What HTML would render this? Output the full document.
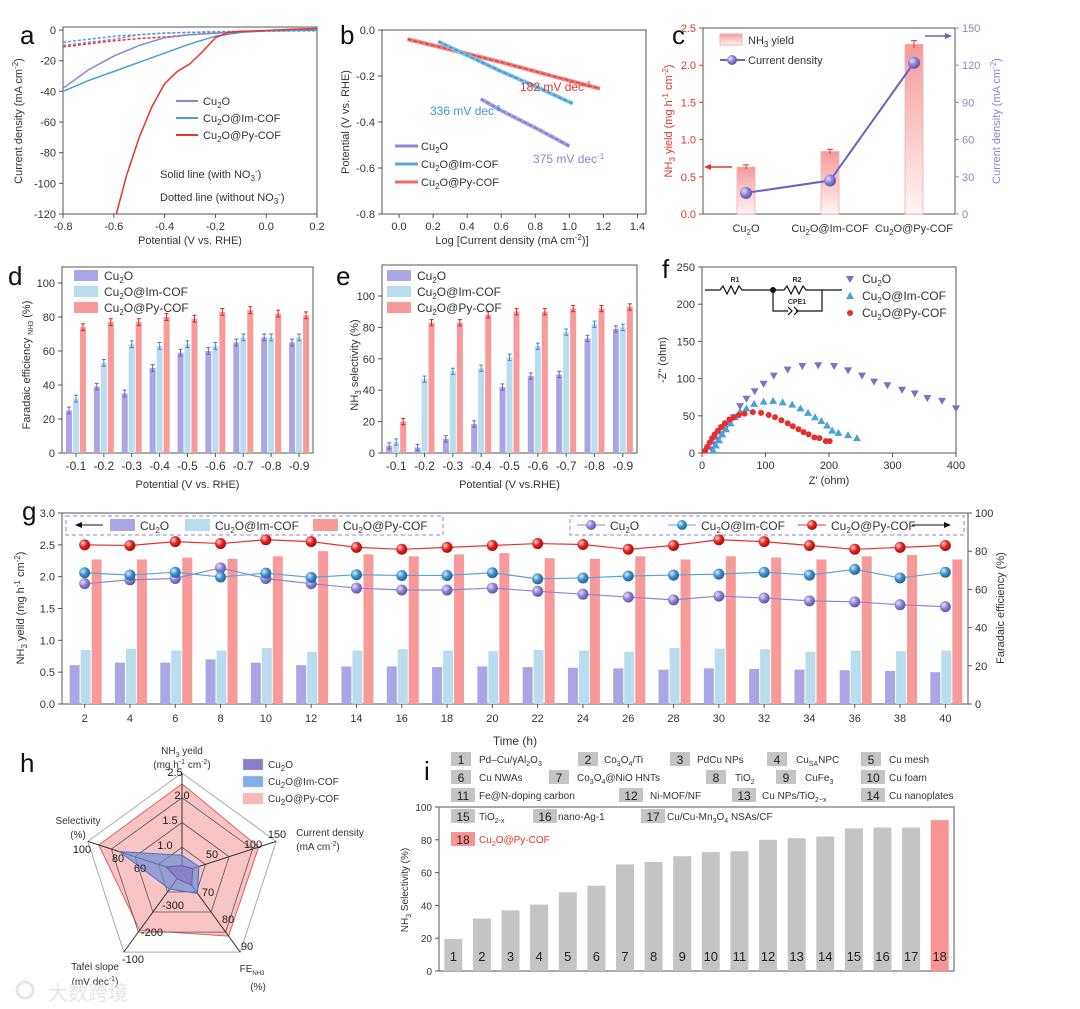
<!DOCTYPE html>
<html><head><meta charset="utf-8"><style>
html,body{margin:0;padding:0;background:#fff;}
svg{display:block;font-family:"Liberation Sans","Noto Sans CJK SC",sans-serif;}
</style></head><body>
<svg id="fig" width="1080" height="1009" viewBox="0 0 1080 1009" xmlns="http://www.w3.org/2000/svg">
<defs>
<linearGradient id="gradRed" x1="0" y1="0" x2="0" y2="1"><stop offset="0" stop-color="#f59a9a"/><stop offset="1" stop-color="#fff5f5"/></linearGradient>
<radialGradient id="sphP" cx="0.35" cy="0.35" r="0.7"><stop offset="0" stop-color="#e6e2ff"/><stop offset="0.5" stop-color="#8c82d2"/><stop offset="1" stop-color="#5a50a8"/></radialGradient>
<radialGradient id="sphB" cx="0.35" cy="0.35" r="0.7"><stop offset="0" stop-color="#d8efff"/><stop offset="0.5" stop-color="#3f8fcc"/><stop offset="1" stop-color="#1d5f96"/></radialGradient>
<radialGradient id="sphR" cx="0.35" cy="0.35" r="0.7"><stop offset="0" stop-color="#ffdede"/><stop offset="0.5" stop-color="#e8201e"/><stop offset="1" stop-color="#a00c0c"/></radialGradient>
</defs>
</svg>
<script>
// ---------- DATA ----------
const aPot=[-0.8,-0.7,-0.6,-0.5,-0.4,-0.3,-0.2,-0.1,0.0,0.1,0.2];
const aCuSolid=[-38,-26,-17,-10,-5,-3,-2,-1,-0.5,-0.2,0];
const aImSolid=[-40,-33,-27,-21,-15,-9,-4,-1.5,-0.5,-0.2,0];
const aPyPot=[-0.59,-0.55,-0.5,-0.45,-0.4,-0.35,-0.3,-0.25,-0.2,-0.15,-0.1,0.0,0.1,0.2];
const aPySolid=[-120,-95,-70,-50,-35,-27,-22,-14,-5,-1.5,-0.8,-0.3,0.5,1];
const aCuDot=[-10,-8,-6,-3,-2,-1.5,-1,-0.8,-0.6,-0.5,-0.5];
const aImDot=[-8,-6,-4,-3,-2,-1.5,-1.2,-1,-0.7,-0.6,-0.5];
const aPyDot=[-11,-9,-7,-5.5,-4.5,-3,-2,-1.2,-0.5,0,0];

const bPyX=[0.05,0.3,0.6,0.9,1.18], bPyY=[-0.04,-0.085,-0.14,-0.2,-0.255];
const bImX=[0.23,0.4,0.6,0.8,1.02], bImY=[-0.05,-0.11,-0.18,-0.245,-0.32];
const bCuX=[0.48,0.6,0.8,1.0], bCuY=[-0.30,-0.35,-0.425,-0.505];

const cCats=['Cu<tspan dy="3" font-size="8">2</tspan><tspan dy="-3">O</tspan>','Cu<tspan dy="3" font-size="8">2</tspan><tspan dy="-3">O@Im-COF</tspan>','Cu<tspan dy="3" font-size="8">2</tspan><tspan dy="-3">O@Py-COF</tspan>'];
const cYield=[0.63,0.84,2.28];
const cYieldErr=[0.03,0.03,0.05];
const cCurrent=[17,27,122];

const potCats=['-0.1','-0.2','-0.3','-0.4','-0.5','-0.6','-0.7','-0.8','-0.9'];
const dCu=[25,39,35,50,59,60,65,68,65];
const dIm=[32,53,64,63,64,63,68,68,68];
const dPy=[74,77,77,80,79,83,84,82,81];
const eCu=[4.5,3.5,9,18.5,42,49,50,73,79];
const eIm=[7,47,52,54,61,68,77,82,80];
const ePy=[20,83,83,88,90,90,92,92,93];

const fCuX=[15,20,25,30,35,40,45,50,60,70,83,97,113,135,158,183,208,230,252,271,292,315,335,355,378,400];
const fCuY=[5,12,18,25,32,38,43,48,63,73,83,93,104,112,117,118,117,111,104,96,91,85,80,74,70,60];
const fImX=[18,22,27,32,38,45,52,60,70,82,97,112,127,142,155,167,178,188,197,205,215,230,244];
const fImY=[3,10,17,25,32,40,48,56,60,66,69,70,68,65,60,54,48,43,37,30,27,24,20];
const fPyX=[5,8,12,16,20,25,30,36,43,50,58,67,80,93,105,115,125,135,143,152,160,168,177,185,195,201];
const fPyY=[3,8,14,20,25,30,35,40,45,48,51,53,55,54,51,48,44,40,36,32,28,25,21,20,16,16];

const gTime=[2,4,6,8,10,12,14,16,18,20,22,24,26,28,30,32,34,36,38,40];
const gCuYield=[0.61,0.65,0.65,0.70,0.65,0.61,0.59,0.59,0.58,0.59,0.58,0.57,0.56,0.54,0.56,0.55,0.54,0.53,0.52,0.50];
const gImYield=[0.85,0.87,0.84,0.84,0.88,0.82,0.84,0.86,0.84,0.83,0.85,0.84,0.82,0.88,0.87,0.86,0.82,0.84,0.83,0.84];
const gPyYield=[2.27,2.27,2.30,2.28,2.32,2.40,2.35,2.32,2.35,2.37,2.29,2.28,2.32,2.27,2.32,2.30,2.27,2.32,2.34,2.27];
const gCuFE=[63,65,65.7,71.3,65.7,63,60.7,59.7,59.7,60.7,59,57.5,56,54.5,56.5,55.5,54,53.5,52,51];
const gImFE=[68.7,67.5,69,66.5,68.5,66.3,67.7,67.3,67.3,68.7,65.5,66,67,67.5,68,69,67.5,70.5,66,69];
const gPyFE=[83.3,83,85,84,86,85,82,81,82,83,84,83.5,81,83,86,85,83,81,82,83];

const hAxisMin=[0.5,0,60,-400,40];
const hAxisMax=[2.5,150,90,-100,100];
const hCu=[0.63,17,65,-375,50];
const hIm=[0.84,27,68,-336,80];
const hPy=[2.28,122,84,-182,93];

const iVals=[19.5,32,37,40.5,48,52,65,66.5,70,72.5,73,80,81,82,87,87.5,87.5,92];
const iTicks=[0,20,40,60,80,100];

// ---------- HELPERS ----------
const NS='http://www.w3.org/2000/svg';
const S=document.getElementById('fig');
function el(tag,a,name,p){
  const e=document.createElementNS(NS,tag);
  for(const k in a) e.setAttribute(k,a[k]);
  
  
  (p||S).appendChild(e); return e;
}
function tx(x,y,html,name,o){
  o=o||{};
  const a={x:x,y:y,'font-size':o.fs||11,'text-anchor':o.a||'middle',fill:o.c||'#333'};
  if(o.r){a.transform='rotate('+o.r+' '+x+' '+y+')';}
  if(o.w) a['font-weight']=o.w;
  const t=el('text',a,name);
  t.innerHTML=html; return t;
}
const lin=(d0,d1,r0,r1)=>v=>r0+(v-d0)/(d1-d0)*(r1-r0);
const CU2O='Cu<tspan dy="3" font-size="8">2</tspan><tspan dy="-3">O</tspan>';
const IM='Cu<tspan dy="3" font-size="8">2</tspan><tspan dy="-3">O@Im-COF</tspan>';
const PY='Cu<tspan dy="3" font-size="8">2</tspan><tspan dy="-3">O@Py-COF</tspan>';
const CP='#8d84d4', CB='#4a9ed3', CR='#e8332d';
const BP='#aaa6e4', BB='#badcef', BR='#f99a9a';
function box(x0,y0,x1,y1,name){el('rect',{x:x0,y:y0,width:x1-x0,height:y1-y0,fill:'none',stroke:'#555','stroke-width':1},name);}
function yTicks(x,sc,vals,name,o){o=o||{};const side=o.right?1:-1;
  vals.forEach(v=>{const y=sc(v);
    el('line',{x1:x,x2:x+side*4,y1:y,y2:y,stroke:o.c||'#555'},name+'-tick');
    tx(x+side*7,y+4,o.fmt?o.fmt(v):String(v),name+'-label',{a:o.right?'start':'end',c:o.c||'#333',fs:o.fs||11});});}
function xTicks(y,sc,vals,name,o){o=o||{};
  vals.forEach(v=>{const x=sc(v);
    el('line',{x1:x,x2:x,y1:y,y2:y+4,stroke:'#555'},name+'-tick');
    tx(x,y+16,o.fmt?o.fmt(v):String(v),name+'-label');});}
function path(xs,ys,sx,sy,attrs,name){
  const d=xs.map((x,i)=>(i?'L':'M')+sx(x).toFixed(1)+','+sy(ys[i]).toFixed(1)).join('');
  attrs.d=d; attrs.fill='none'; return el('path',attrs,name);}
function letter(x,y,s){tx(x,y,s,'panel-label-'+s,{fs:26,a:'start',c:'#111'});}

// ---------- PANEL A ----------
(function(){
const sx=lin(-0.8,0.2,63,317), sy=lin(2,-120,27,214);
box(63,27,317,214,'panel-a-frame');
letter(20,44,'a');
yTicks(63,sy,[0,-20,-40,-60,-80,-100,-120],'a-y');
xTicks(214,sx,[-0.8,-0.6,-0.4,-0.2,0,0.2],'a-x',{fmt:v=>v.toFixed(1)});
tx(22,121,'Current density (mA cm<tspan dy="-4" font-size="8">-2</tspan><tspan dy="4">)</tspan>','a-y-title',{r:-90});
tx(190,244,'Potential (V vs. RHE)','a-x-title');
path(aPot,aCuDot,sx,sy,{stroke:CP,'stroke-width':1.5,'stroke-dasharray':'3,2'},'a-cu2o-dotted');
path(aPot,aImDot,sx,sy,{stroke:CB,'stroke-width':1.5,'stroke-dasharray':'3,2'},'a-im-dotted');
path(aPot,aPyDot,sx,sy,{stroke:CR,'stroke-width':1.5,'stroke-dasharray':'3,2'},'a-py-dotted');
path(aPot,aCuSolid,sx,sy,{stroke:CP,'stroke-width':1.5},'a-cu2o-line');
path(aPot,aImSolid,sx,sy,{stroke:CB,'stroke-width':1.5},'a-im-line');
path(aPyPot,aPySolid,sx,sy,{stroke:CR,'stroke-width':1.5},'a-py-line');
[[CP,CU2O],[CB,IM],[CR,PY]].forEach((c,i)=>{const y=101+i*17;
  el('line',{x1:176,x2:198,y1:y,y2:y,stroke:c[0],'stroke-width':2},'a-legend-line');
  tx(203,y+4,c[1],'a-legend-text',{a:'start'});});
tx(160,178,'Solid line (with NO<tspan dy="3" font-size="8">3</tspan><tspan dy="-7" font-size="8">-</tspan><tspan dy="4">)</tspan>','a-note-solid',{a:'start'});
tx(160,201,'Dotted line (without NO<tspan dy="3" font-size="8">3</tspan><tspan dy="-7" font-size="8">-</tspan><tspan dy="4">)</tspan>','a-note-dotted',{a:'start'});
})();

// ---------- PANEL B ----------
(function(){
const sx=lin(-0.1,1.45,382,646), sy=lin(0,-0.8,30,214);
box(382,30,646,214,'panel-b-frame');
letter(340,44,'b');
yTicks(382,sy,[0,-0.2,-0.4,-0.6,-0.8],'b-y',{fmt:v=>v.toFixed(1)});
xTicks(214,sx,[0,0.2,0.4,0.6,0.8,1.0,1.2,1.4],'b-x',{fmt:v=>v.toFixed(1)});
tx(349,122,'Potential (V vs. RHE)','b-y-title',{r:-90});
tx(512,244,'Log [Current density (mA cm<tspan dy="-4" font-size="8">-2</tspan><tspan dy="4">)]</tspan>','b-x-title');
[[bPyX,bPyY,'#f08080',CR,'py'],[bImX,bImY,'#7cbfe6','#3a8cc4','im'],[bCuX,bCuY,'#aaa3e4','#7a70c8','cu2o']].forEach(s=>{
  path(s[0],s[1],sx,sy,{stroke:s[2],'stroke-width':4},'b-'+s[4]+'-data');
  path(s[0],s[1],sx,sy,{stroke:s[3],'stroke-width':1.2,'stroke-dasharray':'4,2'},'b-'+s[4]+'-fit');});
tx(520,91,'182 mV dec<tspan dy="-4" font-size="8">-1</tspan>','b-annot-py',{a:'start',c:CR,fs:12});
tx(430,115,'336 mV dec<tspan dy="-4" font-size="8">-1</tspan>','b-annot-im',{a:'start',c:'#3a9ad6',fs:12});
tx(533,163,'375 mV dec<tspan dy="-4" font-size="8">-1</tspan>','b-annot-cu2o',{a:'start',c:CP,fs:12});
[['#8d84d4',CU2O],['#5aa5d6',IM],['#f06a6a',PY]].forEach((c,i)=>{const y=146+i*18;
  el('line',{x1:395,x2:418,y1:y,y2:y,stroke:c[0],'stroke-width':3},'b-legend-line');
  tx(421,y+4,c[1],'b-legend-text',{a:'start'});});
})();

// ---------- PANEL C ----------
(function(){
const sy=lin(0,2.5,214,28), sy2=lin(0,150,214,28);
const cx=[746,830,914];
box(703,28,955,214,'panel-c-frame');
letter(672,44,'c');
yTicks(703,sy,[0,0.5,1.0,1.5,2.0,2.5],'c-y-left',{fmt:v=>v.toFixed(1),c:'#e8332d'});
yTicks(955,sy2,[0,30,60,90,120,150],'c-y-right',{right:true,c:'#8a84c8'});
tx(672,121,'NH<tspan dy="3" font-size="8">3</tspan><tspan dy="-3"> yield (mg h</tspan><tspan dy="-4" font-size="8">-1</tspan><tspan dy="4"> cm</tspan><tspan dy="-4" font-size="8">-2</tspan><tspan dy="4">)</tspan>','c-y-left-title',{r:-90,c:'#e8332d'});
tx(1000,121,'Current density (mA cm<tspan dy="-4" font-size="8">-2</tspan><tspan dy="4">)</tspan>','c-y-right-title',{r:-90,c:'#8a84c8'});
cYield.forEach((v,i)=>{
  el('rect',{x:cx[i]-9,y:sy(v),width:18,height:214-sy(v),fill:'url(#gradRed)',stroke:'#f4b0b0','stroke-width':0.8},'c-yield-bar');
  el('line',{x1:cx[i],x2:cx[i],y1:sy(v+cYieldErr[i]),y2:sy(v-cYieldErr[i]),stroke:'#d33'},'c-error-bar');
  el('line',{x1:cx[i]-3,x2:cx[i]+3,y1:sy(v+cYieldErr[i]),y2:sy(v+cYieldErr[i]),stroke:'#d33'},'c-error-cap');
  tx(cx[i],232,cCats[i],'c-x-label');});
const px=cx, py=cCurrent.map(sy2);
el('polyline',{points:px.map((x,i)=>x+','+py[i]).join(' '),fill:'none',stroke:'#6a62c2','stroke-width':2},'c-current-line');
cCurrent.forEach((v,i)=>{el('circle',{cx:px[i],cy:py[i],r:6,fill:'url(#sphP)'},'c-current-point');});
el('rect',{x:720,y:34,width:22,height:11,fill:'url(#gradRed)',stroke:'#f4b0b0'},'c-legend-swatch');
tx(748,44,'NH<tspan dy="3" font-size="8">3</tspan><tspan dy="-3"> yield</tspan>','c-legend-yield',{a:'start'});
el('line',{x1:720,x2:745,y1:60,y2:60,stroke:'#6a62c2','stroke-width':2},'c-legend-line');
el('circle',{cx:732,cy:60,r:5,fill:'url(#sphP)'},'c-legend-dot');
tx(748,64,'Current density','c-legend-current',{a:'start'});
el('line',{x1:732,x2:708,y1:167,y2:167,stroke:'#e8332d','stroke-width':1.5},'c-arrow-left');
el('path',{d:'M704,167 L711,164 L711,170 Z',fill:'#e8332d'},'c-arrow-left-head');
el('line',{x1:925,x2:948,y1:36,y2:36,stroke:'#6a62c2','stroke-width':1.5},'c-arrow-right');
el('path',{d:'M952,36 L945,33 L945,39 Z',fill:'#6a62c2'},'c-arrow-right-head');
})();

// ---------- PANELS D/E ----------
function groupBars(x0,x1,top,sy,series,letterX,lname,ytitle,ytitleX,xtitle,yMax,legendX){
  box(x0,top,x1,453,lname+'-frame');
  const band=(x1-x0)/potCats.length;
  yTicks(x0,sy,[0,20,40,60,80,100],lname+'-y');
  potCats.forEach((c,i)=>{const cx=x0+band*(i+0.5);
    el('line',{x1:cx,x2:cx,y1:453,y2:457,stroke:'#555'},lname+'-x-tick');
    tx(cx,470,c,lname+'-x-label',{fs:12});
    series.forEach((s,j)=>{const v=s[0][i];const bx=cx+(j-1)*7-3;
      el('rect',{x:bx,y:sy(v),width:6,height:453-sy(v),fill:s[1]},lname+'-bar');
      const ex=bx+3;
      el('line',{x1:ex,x2:ex,y1:sy(v+2),y2:sy(v-2),stroke:s[2]},lname+'-error');
      el('line',{x1:ex-2,x2:ex+2,y1:sy(v+2),y2:sy(v+2),stroke:s[2]},lname+'-error-cap');
      el('line',{x1:ex-2,x2:ex+2,y1:sy(v-2),y2:sy(v-2),stroke:s[2]},lname+'-error-cap');});});
  tx(ytitleX,365,ytitle,lname+'-y-title',{r:-90});
  tx((x0+x1)/2,488,xtitle,lname+'-x-title');
  [[BP,CU2O],[BB,IM],[BR,PY]].forEach((c,i)=>{const y=270+i*16;
    el('rect',{x:legendX,y:y,width:24,height:11,fill:c[0]},lname+'-legend-swatch');
    tx(legendX+30,y+10,c[1],lname+'-legend-text',{a:'start',fs:12});});
}
(function(){
const sy=lin(0,100,453,283);
letter(8,285,'d');
groupBars(62,313,267,sy,[[dCu,BP,'#6a62c2'],[dIm,BB,'#3a8cc4'],[dPy,BR,'#e02020']],8,'d','Faradaic efficiency <tspan dy="3" font-size="7">NH3</tspan><tspan dy="-3"> (%)</tspan>',30,'Potential (V vs. RHE)',0,74);
})();
(function(){
const sy=lin(0,100,453,296);
letter(336,285,'e');
groupBars(382,637,265,sy,[[eCu,BP,'#6a62c2'],[eIm,BB,'#3a8cc4'],[ePy,BR,'#e02020']],336,'e','NH<tspan dy="3" font-size="8">3</tspan><tspan dy="-3"> selectivity (%)</tspan>',358,'Potential (V vs.RHE)',0,387);
})();

// ---------- PANEL F ----------
(function(){
const sx=lin(0,400,702,956), sy=lin(0,250,453,267);
box(702,267,956,453,'panel-f-frame');
letter(662,278,'f');
yTicks(702,sy,[0,50,100,150,200,250],'f-y');
xTicks(453,sx,[0,100,200,300,400],'f-x');
tx(666,360,'-Z" (ohm)','f-y-title',{r:-90});
tx(829,484,"Z' (ohm)",'f-x-title');
const tri=(x,y,up)=>up?`M${x},${y-4}L${x+4},${y+3}L${x-4},${y+3}Z`:`M${x},${y+4}L${x+4},${y-3}L${x-4},${y-3}Z`;
fCuX.forEach((v,i)=>{el('path',{d:tri(sx(v),sy(fCuY[i]),false),fill:'#7b72c8'},'f-cu2o-point');});
fImX.forEach((v,i)=>{el('path',{d:tri(sx(v),sy(fImY[i]),true),fill:'#4aa3d8'},'f-im-point');});
fPyX.forEach((v,i)=>{el('circle',{cx:sx(v),cy:sy(fPyY[i]),r:3,fill:'#e82d2d'},'f-py-point');});
const g='#111';
el('path',{d:'M705,290 L720,290 l3,-4 l4,8 l4,-8 l4,8 l4,-8 l3,4 L768,290 M768,290 L784,290 l3,-4 l4,8 l4,-8 l4,8 l4,-8 l3,4 L822,290 L842,290 M773,290 L773,311 L788,311 M796,311 L822,311 L822,290',fill:'none',stroke:g,'stroke-width':1.2},'f-circuit');
el('path',{d:'M788,307 l4,4 l-4,4 M794,307 l4,4 l-4,4',fill:'none',stroke:g,'stroke-width':1.2},'f-circuit-cpe');
el('circle',{cx:773,cy:290,r:3,fill:g},'f-circuit-node');
tx(735,282,'R1','f-circuit-r1',{fs:7,w:'bold'});
tx(797,282,'R2','f-circuit-r2',{fs:7,w:'bold'});
tx(797,304,'CPE1','f-circuit-cpe1',{fs:7,w:'bold'});
el('path',{d:tri(850,279,false),fill:'#7b72c8'},'f-legend-cu2o-marker');
el('path',{d:tri(850,296,true),fill:'#4aa3d8'},'f-legend-im-marker');
el('circle',{cx:850,cy:313,r:3,fill:'#e82d2d'},'f-legend-py-marker');
tx(862,283,CU2O,'f-legend-text',{a:'start',fs:12});
tx(862,300,IM,'f-legend-text',{a:'start',fs:12});
tx(862,317,PY,'f-legend-text',{a:'start',fs:12});
})();

// ---------- PANEL G ----------
(function(){
const x0=62,x1=968,yb=704,yt=513;
const sy=lin(0,3,yb,yt), sy2=lin(0,100,yb,yt);
const band=(x1-x0)/gTime.length;
const cxOf=i=>x0+band*(i+0.5);
box(x0,yt,x1,yb,'panel-g-frame');
letter(22,520,'g');
yTicks(x0,sy,[0,0.5,1.0,1.5,2.0,2.5,3.0],'g-y-left',{fmt:v=>v.toFixed(1)});
yTicks(x1,sy2,[0,20,40,60,80,100],'g-y-right',{right:true});
gTime.forEach((t,i)=>{const cx=cxOf(i);
  el('line',{x1:cx,x2:cx,y1:yb,y2:yb+4,stroke:'#555'},'g-x-tick');
  tx(cx,722,String(t),'g-x-label');
  [[gCuYield,BP,-10],[gImYield,BB,1],[gPyYield,BR,12]].forEach(s=>{const v=s[0][i];
    el('rect',{x:cx+s[2]-5,y:sy(v),width:10,height:yb-sy(v),fill:s[1]},'g-yield-bar');});});
[[gCuFE,'#8d84d4','url(#sphP)','cu2o'],[gImFE,'#5aa5d6','url(#sphB)','im'],[gPyFE,'#e8332d','url(#sphR)','py']].forEach(s=>{
  el('polyline',{points:s[0].map((v,i)=>cxOf(i)+','+sy2(v)).join(' '),fill:'none',stroke:s[1],'stroke-width':1.2},'g-fe-line-'+s[3]);
  s[0].forEach((v,i)=>{el('circle',{cx:cxOf(i),cy:sy2(v),r:5.5,fill:s[2]},'g-fe-point-'+s[3]);});});
tx(24,608,'NH<tspan dy="3" font-size="8">3</tspan><tspan dy="-3"> yeild (mg h</tspan><tspan dy="-4" font-size="8">-1</tspan><tspan dy="4"> cm</tspan><tspan dy="-4" font-size="8">-2</tspan><tspan dy="4">)</tspan>','g-y-left-title',{r:-90});
tx(1004,608,'Faradaic efficiency (%)','g-y-right-title',{r:-90});
tx(515,745,'Time (h)','g-x-title',{fs:12});
el('rect',{x:66,y:516,width:377,height:19,fill:'none',stroke:'#8d84d4','stroke-dasharray':'4,3'},'g-legend-left-box');
el('rect',{x:570,y:516,width:394,height:19,fill:'none',stroke:'#8d84d4','stroke-dasharray':'4,3'},'g-legend-right-box');
el('line',{x1:103,x2:80,y1:525,y2:525,stroke:'#111'},'g-legend-arrow-left');
el('path',{d:'M75,525 L82,522 L82,528 Z',fill:'#111'},'g-legend-arrow-left-head');
[[110,BP,CU2O],[185,BB,IM],[313,BR,PY]].forEach(c=>{
  el('rect',{x:c[0],y:519,width:25,height:12,fill:c[1]},'g-legend-swatch');
  tx(c[0]+30,530,c[2],'g-legend-bar-text',{a:'start',fs:12});});
[[577,'#8d84d4','url(#sphP)',CU2O],[668,'#5aa5d6','url(#sphB)',IM],[798,'#e8332d','url(#sphR)',PY]].forEach(c=>{
  el('line',{x1:c[0],x2:c[0]+28,y1:525,y2:525,stroke:c[1]},'g-legend-line');
  el('circle',{cx:c[0]+14,cy:525,r:5,fill:c[2]},'g-legend-dot');
  tx(c[0]+33,530,c[3],'g-legend-line-text',{a:'start',fs:12});});
el('line',{x1:912,x2:946,y1:525,y2:525,stroke:'#111'},'g-legend-arrow-right');
el('path',{d:'M951,525 L944,522 L944,528 Z',fill:'#111'},'g-legend-arrow-right-head');
})();

// ---------- PANEL H (radar) ----------
(function(){
const cx=182, cy=872, R=99;
letter(20,772,'h');
const ang=k=>(-90+72*k)*Math.PI/180;
const pt=(k,f)=>[cx+R*f*Math.cos(ang(k)),cy+R*f*Math.sin(ang(k))];
const poly=(fs)=>fs.map((f,k)=>pt(k,f).map(v=>v.toFixed(1)).join(',')).join(' ');
el('polygon',{points:poly([1,1,1,1,1]),fill:'none',stroke:'#aaa','stroke-width':1},'h-outer-ring');
const norm=vals=>vals.map((v,k)=>(v-hAxisMin[k])/(hAxisMax[k]-hAxisMin[k]));
el('polygon',{points:poly(norm(hPy)),fill:'#f7b9b9','fill-opacity':0.85,stroke:'#e06060','stroke-width':1},'h-py-area');
[0.25,0.5,0.75].forEach(f=>{el('polygon',{points:poly([f,f,f,f,f]),fill:'none',stroke:'#555','stroke-width':0.8},'h-grid-ring');});
for(let k=0;k<5;k++){const p=pt(k,1);el('line',{x1:cx,y1:cy,x2:p[0],y2:p[1],stroke:'#333','stroke-width':1},'h-spoke');}
el('polygon',{points:poly(norm(hIm)),fill:'#6c8fd8','fill-opacity':0.7,stroke:'#4a74c8','stroke-width':1},'h-im-area');
el('polygon',{points:poly(norm(hCu)),fill:'#8a7cc8','fill-opacity':0.85,stroke:'#6a5cb0','stroke-width':1},'h-cu2o-area');
const tl=[[175,776,'2.5'],[182,799,'2.0'],[170,824,'1.5'],[165,849,'1.0'],[212,858,'50'],[253,848,'100'],[277,838,'150'],[208,896,'70'],[228,923,'80'],[247,950,'90'],[173,909,'-300'],[152,936,'-200'],[133,963,'-100'],[82,853,'100'],[118,862,'80'],[140,872,'60']];
tl.forEach(t=>tx(t[0],t[1],t[2],'h-tick-label',{fs:11,c:'#222'}));
tx(182,754,'NH<tspan dy="3" font-size="7">3</tspan><tspan dy="-3"> yeild</tspan>','h-axis-yield',{fs:10});
tx(182,768,'(mg h<tspan dy="-4" font-size="7">-1</tspan><tspan dy="4"> cm</tspan><tspan dy="-4" font-size="7">-2</tspan><tspan dy="4">)</tspan>','h-axis-yield-unit',{fs:10});
tx(330,836,'Current density','h-axis-current',{fs:10});
tx(318,850,'(mA cm<tspan dy="-4" font-size="7">-2</tspan><tspan dy="4">)</tspan>','h-axis-current-unit',{fs:10});
tx(78,824,'Selectivity','h-axis-selectivity',{fs:10});
tx(78,838,'(%)','h-axis-selectivity-unit',{fs:10});
tx(95,970,'Tafel slope','h-axis-tafel',{fs:10});
tx(95,985,'(mV dec<tspan dy="-4" font-size="7">-1</tspan><tspan dy="4">)</tspan>','h-axis-tafel-unit',{fs:10});
tx(252,972,'FE<tspan dy="3" font-size="6">NH3</tspan>','h-axis-fe',{fs:10});
tx(258,990,'(%)','h-axis-fe-unit',{fs:10});
[['#8a7cc8',CU2O],['#7fb0ec',IM],['#f7b9b9',PY]].forEach((c,i)=>{const y=759+i*17;
  el('rect',{x:243,y:y,width:20,height:11,fill:c[0],stroke:'#ccc','stroke-width':0.5},'h-legend-swatch');
  tx(268,y+9,c[1],'h-legend-text',{a:'start',fs:10});});
tx(48,1000,'大数跨境','watermark-text',{a:'start',fs:20,c:'#e6e6e6'});
el('circle',{cx:25,cy:990,r:8,fill:'none',stroke:'#e6e6e6','stroke-width':3},'watermark-logo');
})();

// ---------- PANEL I ----------
(function(){
const x0=439,x1=954,yb=971,yt=807;
const sy=lin(0,100,yb,yt);
const band=(x1-x0)/iVals.length;
letter(424,780,'i');
el('rect',{x:x0,y:yt,width:x1-x0,height:yb-yt,fill:'none',stroke:'#555'},'i-frame');
yTicks(x0,sy,iTicks,'i-y',{fs:10});
tx(408,890,'NH<tspan dy="3" font-size="7">3</tspan><tspan dy="-3"> Selectivity (%)</tspan>','i-y-title',{r:-90,fs:10});
iVals.forEach((v,i)=>{const cx=x0+band*(i+0.5);
  el('rect',{x:cx-9,y:sy(v),width:18,height:yb-sy(v),fill:i===17?'#f99494':'#c4c4c4'},'i-bar');
  tx(cx,961,String(i+1),'i-bar-number',{fs:13,c:'#222'});});
const leg=[[451,479,759,'Pd–Cu/γAl<tspan dy="3" font-size="7">2</tspan><tspan dy="-3">O</tspan><tspan dy="3" font-size="7">3</tspan>'],[578,604,759,'Co<tspan dy="3" font-size="7">3</tspan><tspan dy="-3">O</tspan><tspan dy="3" font-size="7">4</tspan><tspan dy="-3">/Ti</tspan>'],[670,697,759,'PdCu NPs'],[767,796,759,'Cu<tspan dy="3" font-size="7">SA</tspan><tspan dy="-3">NPC</tspan>'],[861,889,759,'Cu mesh'],
[451,479,777,'Cu NWAs'],[549,577,777,'Co<tspan dy="3" font-size="7">3</tspan><tspan dy="-3">O</tspan><tspan dy="3" font-size="7">4</tspan><tspan dy="-3">@NiO HNTs</tspan>'],[706,735,777,'TiO<tspan dy="3" font-size="7">2</tspan>'],[776,805,777,'CuFe<tspan dy="3" font-size="7">3</tspan>'],[861,889,777,'Cu foam'],
[451,479,795,'Fe@N-doping carbon'],[619,650,795,'Ni-MOF/NF'],[732,762,795,'Cu NPs/TiO<tspan dy="3" font-size="7">2−x</tspan>'],[861,889,795,'Cu nanoplates'],
[451,479,816,'TiO<tspan dy="3" font-size="7">2-x</tspan>'],[533,558,816,'nano-Ag-1'],[641,667,816,'Cu/Cu-Mn<tspan dy="3" font-size="7">3</tspan><tspan dy="-3">O</tspan><tspan dy="3" font-size="7">4</tspan><tspan dy="-3"> NSAs/CF</tspan>'],
[451,479,839,'Cu<tspan dy="3" font-size="7">2</tspan><tspan dy="-3">O@Py-COF</tspan>']];
leg.forEach((l,i)=>{const red=i===17;
  el('rect',{x:l[0],y:l[2]-7,width:i>=9?24:20,height:14,fill:red?'#f99494':'#c4c4c4'},'i-legend-box');
  tx(l[0]+(i>=9?12:10),l[2]+5,String(i+1),'i-legend-number',{fs:12,c:'#222'});
  tx(l[1],l[2]+4,l[3],'i-legend-text',{a:'start',fs:10,c:red?'#e8332d':'#333'});});
})();
</script>
</body></html>
